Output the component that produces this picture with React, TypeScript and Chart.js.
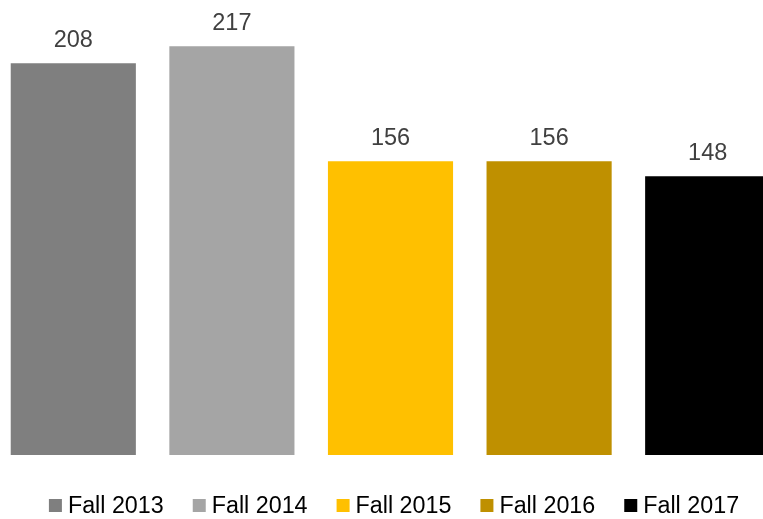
import React, { useEffect, useRef } from "react";
import { Chart, registerables } from "chart.js";

Chart.register(...registerables);

const categories = ["Fall 2013", "Fall 2014", "Fall 2015", "Fall 2016", "Fall 2017"];
const values = [208, 217, 156, 156, 148];
const colors = ["#7F7F7F", "#A5A5A5", "#FFC000", "#BF9000", "#000000"];

const FONT = "'Liberation Sans', Arial, sans-serif";

const labelPlugin = {
  id: "barLabels",
  afterDatasetsDraw(chart: any) {
    const ctx = chart.ctx;
    const meta = chart.getDatasetMeta(0);
    ctx.save();
    ctx.font = `23.5px ${FONT}`;
    ctx.fillStyle = "#404040";
    ctx.textAlign = "center";
    ctx.textBaseline = "alphabetic";
    meta.data.forEach((el: any, i: number) => {
      ctx.fillText(String(values[i]), el.x, el.y - 16);
    });
    ctx.restore();
  },
};

const legendPlugin = {
  id: "bottomLegend",
  afterDraw(chart: any) {
    const ctx = chart.ctx;
    ctx.save();
    ctx.font = `23.3px ${FONT}`;
    const box = 13;
    const gapBox = 6;
    const gapItem = 29;
    const widths = categories.map((c) => ctx.measureText(c).width);
    const total =
      widths.reduce((a, w) => a + box + gapBox + w, 0) + gapItem * (categories.length - 1);
    const centerX = 400;
    let x = centerX - total / 2;
    const baseline = 513;
    categories.forEach((c, i) => {
      ctx.fillStyle = colors[i];
      ctx.fillRect(x, 499, box, box);
      ctx.fillStyle = "#000000";
      ctx.textAlign = "left";
      ctx.textBaseline = "alphabetic";
      ctx.fillText(c, x + box + gapBox, baseline);
      x += box + gapBox + widths[i] + gapItem;
    });
    ctx.restore();
  },
};

export default function App() {
  const ref = useRef<HTMLCanvasElement | null>(null);

  useEffect(() => {
    if (!ref.current) return;
    const chart = new Chart(ref.current, {
      type: "bar",
      data: {
        labels: categories,
        datasets: [
          {
            data: values,
            backgroundColor: colors,
            borderWidth: 0,
            barPercentage: 0.789,
            categoryPercentage: 1,
          },
        ],
      },
      options: {
        animation: false,
        responsive: true,
        maintainAspectRatio: false,
        layout: { padding: { top: 3, bottom: 64, left: 0, right: 0 } },
        scales: {
          x: { display: false, grid: { display: false } },
          y: { display: false, min: 0, max: 240, grid: { display: false } },
        },
        plugins: {
          legend: { display: false },
          tooltip: { enabled: false },
        },
      },
      plugins: [labelPlugin, legendPlugin],
    });
    return () => chart.destroy();
  }, []);

  return (
    <div
      style={{
        position: "fixed",
        left: 0,
        top: 0,
        width: 763,
        height: 519,
        overflow: "hidden",
        background: "#ffffff",
      }}
    >
      <div style={{ position: "absolute", left: -6, top: 0, width: 793, height: 519 }}>
        <canvas ref={ref} />
      </div>
    </div>
  );
}
